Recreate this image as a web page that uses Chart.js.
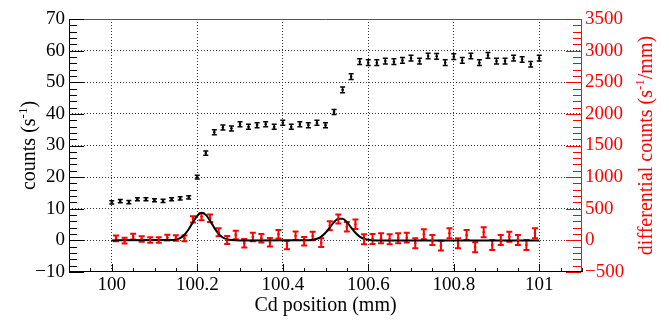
<!DOCTYPE html>
<html>
<head>
<meta charset="utf-8">
<script src="https://cdn.jsdelivr.net/npm/chart.js@4.4.1/dist/chart.umd.min.js"></script>
<style>
  html, body { margin: 0; padding: 0; background: #fff; }
  #wrap { width: 669px; height: 320px; }
</style>
</head>
<body>
<div id="wrap"><canvas id="scan"></canvas></div>
<script>
// Cd edge scan: counts vs position, plus the differential with its fit

const positions = [
  100.00, 100.02, 100.04, 100.06, 100.08, 100.10, 100.12, 100.14, 100.16, 100.18,
  100.20, 100.22, 100.24, 100.26, 100.28, 100.30, 100.32, 100.34, 100.36, 100.38,
  100.40, 100.42, 100.44, 100.46, 100.48, 100.50, 100.52, 100.54, 100.56, 100.58,
  100.60, 100.62, 100.64, 100.66, 100.68, 100.70, 100.72, 100.74, 100.76, 100.78,
  100.80, 100.82, 100.84, 100.86, 100.88, 100.90, 100.92, 100.94, 100.96, 100.98,
  101.00
];
const counts = [
  12.0, 12.4, 12.1, 13.0, 13.0, 12.7, 12.5, 13.0, 13.3, 13.6,
  20.0, 27.6, 34.2, 35.7, 35.4, 36.7, 35.9, 36.4, 36.7, 35.9,
  37.2, 35.9, 36.7, 36.4, 37.2, 36.4, 40.6, 47.6, 51.8, 56.5,
  56.2, 56.2, 56.7, 56.5, 56.9, 57.6, 56.7, 58.3, 58.2, 56.2,
  58.1, 56.9, 58.3, 56.2, 58.5, 56.7, 56.7, 57.6, 57.2, 55.7,
  57.6
];
const countErrors = [
  0.5, 0.5, 0.5, 0.5, 0.5, 0.5, 0.5, 0.5, 0.5, 0.5,
  0.6, 0.7, 0.8, 0.8, 0.8, 0.8, 0.8, 0.8, 0.8, 0.8,
  0.8, 0.8, 0.8, 0.8, 0.8, 0.8, 0.8, 0.9, 0.9, 0.9,
  0.9, 0.9, 0.9, 0.9, 0.9, 0.9, 0.9, 0.9, 0.9, 0.9,
  0.9, 0.9, 0.9, 0.9, 0.9, 0.9, 0.9, 0.9, 0.9, 0.9,
  0.9
];

const diffPositions = [
  100.01, 100.03, 100.05, 100.07, 100.09, 100.11, 100.13, 100.15, 100.17, 100.19,
  100.21, 100.23, 100.25, 100.27, 100.29, 100.31, 100.33, 100.35, 100.37, 100.39,
  100.41, 100.43, 100.45, 100.47, 100.49, 100.51, 100.53, 100.55, 100.57, 100.59,
  100.61, 100.63, 100.65, 100.67, 100.69, 100.71, 100.73, 100.75, 100.77, 100.79,
  100.81, 100.83, 100.85, 100.87, 100.89, 100.91, 100.93, 100.95, 100.97, 100.99
];
const diffCounts = [
  33, -5, 58, 22, 6, 6, 43, 38, 33, 333,
  375, 349, 128, 6, 85, -46, 54, 33, -30, 96,
  -73, 74, -14, 70, -36, 232, 338, 217, 254, 17,
  22, 33, 17, 33, 43, -46, 96, 6, -83, 112,
  -46, 85, -109, 128, -73, 6, 58, 6, -73, 112
];
const diffErrors = [
  45, 45, 45, 45, 45, 45, 45, 45, 45, 50,
  55, 60, 62, 65, 68, 68, 68, 68, 68, 68,
  68, 68, 68, 68, 68, 70, 72, 75, 75, 78,
  78, 78, 78, 78, 78, 78, 78, 78, 78, 78,
  78, 78, 78, 78, 78, 78, 78, 78, 78, 78
];

// fitted curve
const fitPositions = [
  100.00, 100.14, 100.15, 100.16, 100.17, 100.18, 100.19, 100.20, 100.21, 100.22,
  100.23, 100.24, 100.25, 100.26, 100.27, 100.28, 100.30, 100.45, 100.46, 100.47,
  100.48, 100.49, 100.50, 100.51, 100.52, 100.53, 100.54, 100.55, 100.56, 100.57,
  100.58, 100.59, 100.60, 100.61, 100.63, 101.00
];
const fitValues = [
  0, 4, 13, 37, 89, 175, 287, 388, 435, 403,
  309, 197, 103, 45, 16, 5, 0, 1, 3, 9,
  25, 60, 121, 203, 288, 343, 343, 288, 203, 121,
  60, 25, 9, 3, 0, 0
];

const xTicks = [100, 100.2, 100.4, 100.6, 100.8, 101];
const xTickLabels = ['100', '100.2', '100.4', '100.6', '100.8', '101'];
const leftTicks = [-10, 0, 10, 20, 30, 40, 50, 60, 70];
const leftTickLabels = ['\u221210', '0', '10', '20', '30', '40', '50', '60', '70'];
const rightTicks = [-500, 0, 500, 1000, 1500, 2000, 2500, 3000, 3500];
const rightTickLabels = ['\u2212500', '0', '500', '1000', '1500', '2000', '2500', '3000', '3500'];

const SERIF = "'Liberation Serif', 'DejaVu Serif', serif";
const RED = '#ff0000';

const toPoints = (xs, ys) => xs.map((x, i) => ({ x, y: ys[i] }));

// vertical error bars with caps, drawn under the fit line
const errorBars = {
  id: 'errorBars',
  beforeDatasetsDraw(chart) {
    const { ctx } = chart;
    chart.data.datasets.forEach((ds, di) => {
      if (!ds.errors) return;
      const xs = chart.scales.x;
      const ys = chart.scales[ds.yAxisID];
      ctx.save();
      ctx.strokeStyle = ds.borderColor;
      ctx.lineWidth = ds.errWidth;
      ctx.beginPath();
      ds.data.forEach((p, i) => {
        const px = xs.getPixelForValue(p.x);
        const top = ys.getPixelForValue(p.y + ds.errors[i]);
        const bot = ys.getPixelForValue(p.y - ds.errors[i]);
        const c = ds.capHalf;
        ctx.moveTo(px, top); ctx.lineTo(px, bot);
        ctx.moveTo(px - c, top); ctx.lineTo(px + c, top);
        ctx.moveTo(px - c, bot); ctx.lineTo(px + c, bot);
      });
      ctx.stroke();
      ctx.restore();
    });
  }
};

function drawTitle(ctx, cx, cy, pre, sup, post, color) {
  ctx.save();
  ctx.translate(cx, cy);
  ctx.rotate(-Math.PI / 2);
  ctx.fillStyle = color;
  ctx.textBaseline = 'alphabetic';
  const big = '20px ' + SERIF, small = '13px ' + SERIF;
  ctx.font = big;
  const w1 = ctx.measureText(pre).width, w3 = ctx.measureText(post).width;
  ctx.font = small;
  const w2 = ctx.measureText(sup).width;
  let x = -(w1 + w2 + w3) / 2;
  const base = 7;
  ctx.font = big; ctx.fillText(pre, x, base); x += w1;
  ctx.font = small; ctx.fillText(sup, x, base - 8); x += w2;
  ctx.font = big; ctx.fillText(post, x, base);
  ctx.restore();
}

// ROOT style frame with inward major and minor ticks
const frameTicks = {
  id: 'frameTicks',
  afterDraw(chart) {
    const { ctx, chartArea: a, scales } = chart;
    const { x, y, y2 } = scales;
    ctx.save();
    ctx.lineWidth = 1;

    ctx.strokeStyle = '#555';
    ctx.beginPath();
    ctx.moveTo(a.left, a.top + 0.5); ctx.lineTo(a.right, a.top + 0.5);
    ctx.moveTo(a.right - 0.5, a.top); ctx.lineTo(a.right - 0.5, a.bottom);
    ctx.stroke();

    ctx.strokeStyle = '#000';
    ctx.beginPath();
    ctx.moveTo(a.left + 0.5, a.top); ctx.lineTo(a.left + 0.5, a.bottom);
    ctx.moveTo(a.left, a.bottom - 0.5); ctx.lineTo(a.right, a.bottom - 0.5);
    for (let k = 0; k <= 24; k++) {
      const px = Math.round(x.getPixelForValue(99.9 + k * 0.05)) + 0.5;
      const len = (k - 2) % 4 === 0 ? 8 : 4;
      ctx.moveTo(px, a.bottom); ctx.lineTo(px, a.bottom - len);
    }
    for (let k = 0; k <= 40; k++) {
      const py = Math.round(y.getPixelForValue(-10 + k * 2)) + 0.5;
      const len = k % 5 === 0 ? 15 : 8;
      ctx.moveTo(a.left, py); ctx.lineTo(a.left + len, py);
    }
    ctx.stroke();

    ctx.strokeStyle = RED;
    ctx.beginPath();
    for (let k = 0; k <= 40; k++) {
      const py = Math.round(y2.getPixelForValue(-500 + k * 100)) + 0.5;
      const len = k % 5 === 0 ? 15 : 8;
      ctx.moveTo(a.right - 1, py); ctx.lineTo(a.right - 1 - len, py);
    }
    ctx.stroke();
    ctx.restore();

    const cy = (a.top + a.bottom) / 2;
    drawTitle(ctx, 28, cy, 'counts (s', '-1', ')', '#000');
    drawTitle(ctx, 645, cy, 'differential counts (s', '-1', '/mm)', RED);
  }
};

new Chart(document.getElementById('scan'), {
  type: 'scatter',
  data: {
    datasets: [
      {
        label: 'differential',
        data: toPoints(diffPositions, diffCounts),
        errors: diffErrors,
        yAxisID: 'y2',
        borderColor: RED,
        backgroundColor: RED,
        pointRadius: 1,
        pointStyle: 'rect',
        errWidth: 2,
        capHalf: 3
      },
      {
        label: 'fit',
        type: 'line',
        data: toPoints(fitPositions, fitValues),
        yAxisID: 'y2',
        borderColor: '#000',
        borderWidth: 2,
        pointRadius: 0,
        cubicInterpolationMode: 'monotone',
        fill: false
      },
      {
        label: 'counts',
        data: toPoints(positions, counts),
        errors: countErrors,
        yAxisID: 'y',
        borderColor: '#000',
        backgroundColor: '#000',
        pointRadius: 1,
        pointStyle: 'rect',
        errWidth: 1.5,
        capHalf: 2.5
      }
    ]
  },
  options: {
    responsive: true,
    maintainAspectRatio: false,
    animation: false,
    layout: { padding: { top: 19, left: 0, right: 0, bottom: 0 } },
    plugins: { legend: { display: false }, tooltip: { enabled: false } },
    scales: {
      x: {
        type: 'linear',
        position: 'bottom',
        min: 99.9,
        max: 101.1,
        afterBuildTicks: s => { s.ticks = xTicks.map(v => ({ value: v })); },
        afterFit: s => { s.height = 48; },
        ticks: {
          color: '#000',
          font: { family: SERIF, size: 19 },
          padding: 2,
          maxRotation: 0,
          autoSkip: false,
          callback: (v, i) => xTickLabels[i]
        },
        grid: { color: '#333', drawTicks: false, lineWidth: 1 },
        border: { display: false, dash: [1, 2] },
        title: {
          display: true,
          text: 'Cd position (mm)',
          color: '#000',
          font: { family: SERIF, size: 20 },
          padding: { top: 0, bottom: 2 }
        }
      },
      y: {
        type: 'linear',
        position: 'left',
        min: -10,
        max: 70,
        afterBuildTicks: s => { s.ticks = leftTicks.map(v => ({ value: v })); },
        afterFit: s => { s.width = 69; },
        ticks: {
          color: '#000',
          font: { family: SERIF, size: 19 },
          padding: 4,
          autoSkip: false,
          callback: (v, i) => leftTickLabels[i]
        },
        grid: {
          color: ctx => (ctx.tick && (ctx.tick.value === -10 || ctx.tick.value === 70)) ? 'rgba(0,0,0,0)' : '#333',
          drawTicks: false,
          lineWidth: 1
        },
        border: { display: false, dash: [1, 2] }
      },
      y2: {
        type: 'linear',
        position: 'right',
        min: -500,
        max: 3500,
        afterBuildTicks: s => { s.ticks = rightTicks.map(v => ({ value: v })); },
        afterFit: s => { s.width = 87; },
        ticks: {
          color: RED,
          font: { family: SERIF, size: 19 },
          padding: 3,
          autoSkip: false,
          callback: (v, i) => rightTickLabels[i]
        },
        grid: { display: false, drawTicks: false },
        border: { display: false }
      }
    }
  },
  plugins: [errorBars, frameTicks]
});
</script>
</body>
</html>
